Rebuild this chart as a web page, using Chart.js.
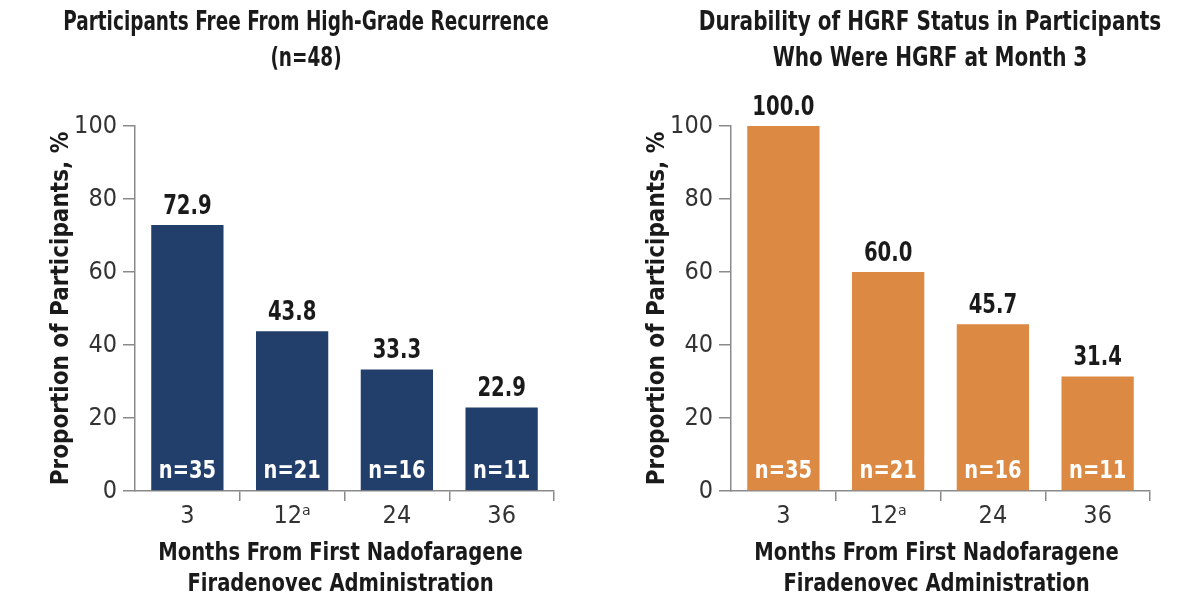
<!DOCTYPE html>
<html>
<head>
<meta charset="utf-8">
<script src="https://cdn.jsdelivr.net/npm/chart.js@4"></script>
<style>
  html, body { margin: 0; padding: 0; background: #fff; }
  #wrap { position: relative; width: 1200px; height: 613px; }
  #wrap canvas { position: absolute; left: 0; top: 0; display: block; }
</style>
</head>
<body>
<div id="wrap">
  <canvas id="chartFree" width="1200" height="613"></canvas>
  <canvas id="chartDurable" width="1200" height="613"></canvas>
</div>
<script>
// Données
const months = ['3', '12\u1D43', '24', '36'];
const freeValues = [72.9, 43.8, 33.3, 22.9];
const durableValues = [100.0, 60.0, 45.7, 31.4];
const nCounts = [35, 21, 16, 11];
const freeTitle = ['Participants Free From High-Grade Recurrence', '(n=48)'];
const durableTitle = ['Durability of HGRF Status in Participants', 'Who Were HGRF at Month 3'];
const xTitle = ['Months From First Nadofaragene', 'Firadenovec Administration'];
const yTitle = 'Proportion of Participants, %';
const yMin = 0;
const yMax = 100;
const yStep = 20;

const FAMILY = '"Liberation Sans Narrow", "DejaVu Sans Condensed", "Arial Narrow", sans-serif';
const AXIS_GREY = '#8a8a8a';
const TEXT_DARK = '#1a1a1a';

// Texte resserré (police étroite non disponible)
function fillCondensed(ctx, text, x, y, factor) {
    const w = ctx.measureText(text).width;
    ctx.fillText(text, x, y, w * factor);
}

// Titre du graphique et titre de l'axe des x
const condensedTitles = {
    id: 'condensedTitles',
    afterDraw(chart, args, opts) {
        const ctx = chart.ctx;
        const area = chart.chartArea;
        ctx.save();
        ctx.fillStyle = TEXT_DARK;
        ctx.textAlign = 'center';
        ctx.textBaseline = 'middle';
        ctx.font = 'bold 27px ' + FAMILY;
        opts.lines.forEach((line, i) => {
            fillCondensed(ctx, line, opts.x, 23 + i * 36, opts.squeeze);
        });
        ctx.font = 'bold 25px ' + FAMILY;
        const cx = (area.left + area.right) / 2 - 4;
        xTitle.forEach((line, i) => {
            fillCondensed(ctx, line, cx, area.bottom + 62 + i * 31, 0.87);
        });
        ctx.restore();
    }
};

// Étiquettes au-dessus et à l'intérieur des barres
const barLabels = {
    id: 'barLabels',
    afterDatasetsDraw(chart) {
        const ctx = chart.ctx;
        const meta = chart.getDatasetMeta(0);
        const values = chart.data.datasets[0].data;
        ctx.save();
        ctx.textAlign = 'center';
        meta.data.forEach((bar, i) => {
            ctx.font = 'bold 26px ' + FAMILY;
            ctx.fillStyle = TEXT_DARK;
            ctx.textBaseline = 'alphabetic';
            fillCondensed(ctx, values[i].toFixed(1), bar.x, bar.y - 11, 0.84);

            ctx.font = 'bold 24px ' + FAMILY;
            ctx.fillStyle = '#ffffff';
            ctx.textBaseline = 'middle';
            fillCondensed(ctx, 'n=' + nCounts[i], bar.x, bar.base - 18, 0.9);
        });
        ctx.restore();
    }
};

function makeChart(id, titleLines, titleX, squeeze, values, color, padLeft, padRight) {
    const el = document.getElementById(id);
    return new Chart(el.getContext('2d'), {
        type: 'bar',
        data: {
            labels: months,
            datasets: [{
                data: values,
                backgroundColor: color,
                borderWidth: 0,
                categoryPercentage: 1,
                barPercentage: 0.69
            }]
        },
        options: {
            responsive: false,
            animation: false,
            layout: { padding: { top: 126, right: padRight, bottom: 0, left: padLeft } },
            plugins: {
                legend: { display: false },
                tooltip: { enabled: false },
                title: { display: false },
                condensedTitles: { lines: titleLines, x: titleX, squeeze: squeeze }
            },
            scales: {
                x: {
                    afterFit(scale) { scale.height = 122; },
                    border: { display: true, color: AXIS_GREY, width: 1.5 },
                    grid: {
                        offset: true,
                        drawOnChartArea: false,
                        drawTicks: true,
                        tickLength: 10,
                        lineWidth: 1.5,
                        color: (c) => (c.index === 0 || c.index === months.length) ? 'rgba(0,0,0,0)' : AXIS_GREY
                    },
                    ticks: {
                        color: '#333',
                        padding: 0,
                        font: { family: FAMILY, size: 25 }
                    },
                    title: { display: false }
                },
                y: {
                    min: yMin,
                    max: yMax,
                    afterFit(scale) { scale.width = 135; },
                    border: { display: true, color: AXIS_GREY, width: 1.5 },
                    grid: {
                        drawOnChartArea: false,
                        drawTicks: true,
                        tickLength: 12,
                        lineWidth: 1.5,
                        color: AXIS_GREY
                    },
                    ticks: {
                        stepSize: yStep,
                        color: '#333',
                        padding: 6,
                        font: { family: FAMILY, size: 25 }
                    },
                    title: {
                        display: true,
                        text: yTitle,
                        color: TEXT_DARK,
                        font: { family: FAMILY, size: 24, weight: 'bold', lineHeight: 1.2 },
                        padding: { top: 47, bottom: 0 }
                    }
                }
            }
        },
        plugins: [barLabels, condensedTitles]
    });
}

makeChart('chartFree', freeTitle, 306, 0.76, freeValues, '#223e6a', 0, 646);
makeChart('chartDurable', durableTitle, 930, 0.825, durableValues, '#dc8943', 596, 50);
</script>
</body>
</html>
